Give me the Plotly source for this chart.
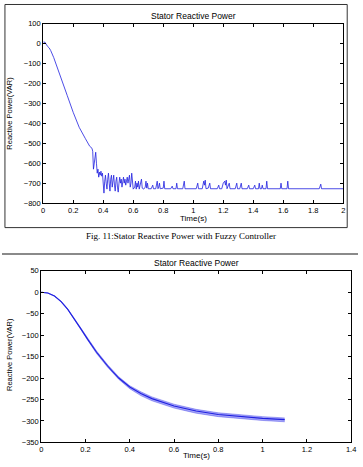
import plotly.graph_objects as go

W, H = 363, 467

# ---- Top chart data (Fuzzy controller) ----
t_top = [0, 0.005, 0.01, 0.02, 0.03, 0.04, 0.05, 0.07, 0.1, 0.13, 0.16, 0.2, 0.24, 0.28, 0.31, 0.325,
         0.33, 0.335, 0.34, 0.345, 0.35, 0.355, 0.36, 0.365, 0.37, 0.375, 0.38, 0.385, 0.39, 0.395,
         0.40, 0.405, 0.41, 0.415, 0.42, 0.425, 0.43, 0.435, 0.44, 0.445, 0.45, 0.455, 0.46, 0.465,
         0.47, 0.475, 0.48, 0.485, 0.49, 0.495, 0.50, 0.505, 0.51, 0.515, 0.52, 0.525, 0.53, 0.535,
         0.54, 0.545, 0.55, 0.555, 0.56, 0.565, 0.57, 0.575, 0.58, 0.585, 0.59, 0.595, 0.60, 0.61,
         0.615, 0.62, 0.625, 0.63, 0.635, 0.64, 0.65, 0.655, 0.66, 0.67, 0.68, 0.685, 0.69, 0.695,
         0.70, 0.72, 0.73, 0.735, 0.75, 0.755, 0.76, 0.765, 0.77, 0.775, 0.78, 0.80, 0.805, 0.81,
         0.85, 0.86, 0.865, 0.885, 0.89, 0.895, 0.93, 0.94, 0.945, 1.02, 1.03, 1.035, 1.06, 1.07,
         1.075, 1.08, 1.085, 1.10, 1.11, 1.115, 1.16, 1.17, 1.175, 1.19, 1.20, 1.21, 1.215, 1.22,
         1.225, 1.24, 1.245, 1.28, 1.29, 1.295, 1.31, 1.32, 1.325, 1.36, 1.37, 1.375, 1.40, 1.41,
         1.415, 1.435, 1.44, 1.445, 1.455, 1.46, 1.465, 1.485, 1.49, 1.495, 1.58, 1.585, 1.59,
         1.625, 1.63, 1.635, 1.84, 1.85, 1.855, 2.0]
q_top = [10, 5, 8, -5, -15, -22, -35, -70, -130, -195, -260, -345, -420, -475, -515, -525,
         -540, -630, -600, -560, -545, -600, -650, -630, -670, -645, -660, -640, -665, -650,
         -700, -750, -690, -660, -700, -730, -680, -650, -700, -740, -680, -660, -720, -690,
         -660, -710, -740, -690, -670, -720, -745, -700, -670, -700, -680, -720, -690, -670,
         -700, -680, -710, -690, -670, -700, -680, -660, -720, -700, -650, -690, -730, -720,
         -690, -730, -700, -720, -690, -730, -700, -680, -725, -730, -720, -690, -725, -700,
         -728, -728, -710, -728, -728, -700, -690, -728, -720, -700, -728, -725, -690, -728,
         -728, -715, -728, -728, -700, -728, -728, -690, -728, -728, -700, -728, -728, -690,
         -710, -685, -728, -725, -700, -728, -728, -710, -728, -728, -700, -690, -710, -685,
         -728, -700, -728, -728, -700, -728, -728, -700, -728, -728, -710, -728, -728, -710,
         -728, -728, -700, -728, -728, -710, -728, -728, -690, -728, -728, -700, -728,
         -728, -690, -728, -728, -705, -728, -728]

# ---- Bottom chart data ----
t_bot = [0, 0.03, 0.06, 0.09, 0.12, 0.15, 0.18, 0.21, 0.25, 0.3, 0.35, 0.4, 0.45, 0.5, 0.55,
         0.6, 0.65, 0.7, 0.8, 0.9, 1.0, 1.1]
q_bot = [0, -2, -9, -22, -40, -62, -86, -110, -140, -172, -200, -221, -236, -248, -257,
         -265, -271, -277, -285, -290, -294, -297]
q_bot_hi = [0, -2, -9, -21, -39, -61, -84, -108, -137, -169, -197, -218, -232, -244, -253,
            -261, -267, -273, -281, -286, -290, -293]
q_bot_lo = [0, -2, -9, -23, -41, -63, -88, -112, -143, -175, -203, -225, -241, -253, -262,
            -270, -276, -282, -290, -295, -299, -302]

top_xticks = [0, 0.2, 0.4, 0.6, 0.8, 1, 1.2, 1.4, 1.6, 1.8, 2]
top_yticks = [100, 0, -100, -200, -300, -400, -500, -600, -700, -800]
bot_xticks = [0, 0.2, 0.4, 0.6, 0.8, 1, 1.2, 1.4]
bot_yticks = [50, 0, -50, -100, -150, -200, -250, -300, -350]

title_txt = "Stator Reactive Power"
xlab = "Time(s)"
ylab = "Reactive Power(VAR)"
caption = "Fig. 11:Stator Reactive Power with Fuzzy Controller"


def fx(x):
    return x / W


def fy(y):
    return 1 - y / H


FONT = "Liberation Sans, Arial, sans-serif"
BLUE = "#2020e0"

fig = go.Figure()
fig.add_trace(go.Scatter(x=t_top, y=q_top, mode="lines", line=dict(color=BLUE, width=0.8),
                         xaxis="x", yaxis="y", showlegend=False))
fig.add_trace(go.Scatter(x=t_bot, y=q_bot_hi, mode="lines", line=dict(color="rgba(40,40,230,0.6)", width=0.6),
                         xaxis="x2", yaxis="y2", showlegend=False))
fig.add_trace(go.Scatter(x=t_bot, y=q_bot_lo, mode="lines", line=dict(color="rgba(40,40,230,0.6)", width=0.6),
                         fill="tonexty", fillcolor="rgba(60,60,240,0.45)",
                         xaxis="x2", yaxis="y2", showlegend=False))
fig.add_trace(go.Scatter(x=t_bot, y=q_bot, mode="lines", line=dict(color=BLUE, width=1.1),
                         xaxis="x2", yaxis="y2", showlegend=False))

ax_common = dict(showline=True, linecolor="black", linewidth=1, mirror="ticks",
                 ticks="inside", ticklen=3, tickcolor="black", tickwidth=1,
                 showgrid=False, zeroline=False,
                 tickfont=dict(family=FONT, size=7.5, color="black"))

fig.update_layout(
    width=W, height=H, margin=dict(l=0, r=0, t=0, b=0),
    paper_bgcolor="white", plot_bgcolor="white",
    xaxis=dict(domain=[fx(42), fx(348)], range=[0, 2], tickvals=top_xticks,
               ticktext=[f"{v:g}" for v in top_xticks], anchor="y", **ax_common),
    yaxis=dict(domain=[fy(203), fy(20)], range=[-800, 100], tickvals=top_yticks,
               anchor="x", **ax_common),
    xaxis2=dict(domain=[fx(40), fx(356)], range=[0, 1.4], tickvals=bot_xticks,
                ticktext=[f"{v:g}" for v in bot_xticks], anchor="y2", **ax_common),
    yaxis2=dict(domain=[fy(447), fy(272)], range=[-350, 50], tickvals=bot_yticks,
                anchor="x2", **ax_common),
)


def A(x, y, text, size, family=FONT, angle=0):
    return dict(x=fx(x), y=fy(y), text=text, showarrow=False, xref="paper", yref="paper",
                xanchor="center", yanchor="middle", textangle=angle,
                font=dict(family=family, size=size, color="black"))


ann = [
    A(195, 12, title_txt, 8.5),
    A(195, 219, xlab, 8),
    A(8, 111, ylab, 7.5, angle=-90),
    A(183, 237, caption, 9, family="Liberation Serif, Times New Roman, serif"),
    A(198, 264, title_txt, 8.5),
    A(198, 460, xlab, 8),
    A(7, 357, ylab, 7.5, angle=-90),
]
fig.update_layout(annotations=ann)

fig.add_shape(type="rect", xref="paper", yref="paper", x0=fx(3), x1=fx(352), y0=fy(228), y1=fy(0.5),
              line=dict(color="#333333", width=1))
fig.add_shape(type="line", xref="paper", yref="paper", x0=0, x1=1, y0=fy(255), y1=fy(255),
              line=dict(color="#8a8a8a", width=2))

fig.write_html("out.html")
